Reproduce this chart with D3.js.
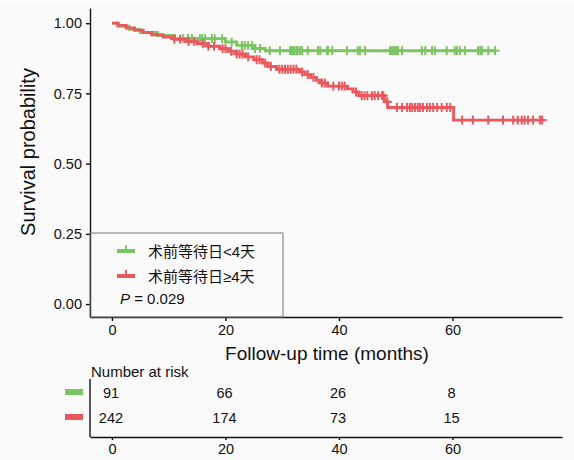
<!DOCTYPE html>
<html>
<head>
<meta charset="utf-8">
<script src="https://cdn.jsdelivr.net/npm/d3@7"></script>
<style>
  body { margin: 0; background: #fff; }
  text { font-family: "Liberation Sans", Arial, "Noto Sans CJK SC", sans-serif; fill: #111; }
</style>
</head>
<body>
<div id="vis"></div>
<script>
// Kaplan-Meier steps: [time, survival after event]
var groupNames = ["术前等待日<4天", "术前等待日≥4天"];
var groupColors = ["#7cc562", "#e9585d"];

var greenSteps = [[0, 1], [1.2, 0.989], [3, 0.978], [5, 0.967], [8, 0.956], [11, 0.945],
    [20, 0.933], [22, 0.921], [25, 0.910], [27, 0.902]];
var greenEnd = 67.5;
var greenCensor = [12.5, 13.4, 14.1, 15.5, 15.9, 16.4, 17.6, 18.1, 19.4, 21.1, 22.9, 23.4, 24, 24.7,
    25.2, 26.1, 27.8, 29.6, 31.4, 31.7, 31.9, 32.2, 32.6, 32.7, 33.1, 33.5, 34.5, 36.3, 36.7, 37.9,
    38.1, 38.8, 41.4, 43.3, 43.7, 44.6, 49, 49.3, 49.6, 49.9, 50.2, 50.4, 51.1, 54.6, 55.2, 56.4,
    56.9, 59, 60.4, 60.8, 61.3, 62.2, 64.5, 64.9, 65.2, 66.3, 67.5];

var redSteps = [[0, 1], [1, 0.992], [2.5, 0.983], [4, 0.975], [5.5, 0.967], [7, 0.959], [9, 0.951],
    [11, 0.943], [13, 0.935], [15, 0.927], [17, 0.918], [19, 0.909], [20.5, 0.9], [22, 0.89],
    [23.5, 0.88], [25, 0.87], [26.5, 0.858], [27.5, 0.846], [29, 0.836], [33, 0.826], [34, 0.817],
    [35, 0.807], [36, 0.797], [36.8, 0.787], [38, 0.776], [41.5, 0.766], [42.5, 0.755],
    [43.5, 0.742], [48, 0.72], [48.6, 0.70], [60.2, 0.655]];
var redEnd = 75.8;
var redCensor = [11, 12, 13.5, 14.5, 16, 17, 18, 19.5, 20, 21, 22, 22.5, 23, 24, 25.5, 26, 27, 28,
    29.5, 30, 30.5, 31, 31.5, 32, 32.5, 33.5, 34.5, 35.5, 37, 37.5, 39, 40, 40.5, 41, 43, 44, 44.5,
    45, 45.8, 46.3, 46.9, 47.6, 47.8, 48.5, 50.2, 51.1, 52, 52.5, 52.9, 53.4, 53.9, 54.3, 54.8,
    55.5, 56, 56.6, 57.3, 58.1, 59, 59.6, 61.7, 63.6, 66.3, 68.9, 70.7, 71.5, 72.2, 72.7, 73.3,
    74.2, 75.4, 75.8];

// risk table
var riskTimes = [0, 20, 40, 60];
var riskGreen = [91, 66, 26, 8];
var riskRed = [242, 174, 73, 15];

var xTicks = [0, 20, 40, 60];
var yTicks = [0, 0.25, 0.5, 0.75, 1];
var pText = "0.029";

var width = 574, height = 460;

var svg = d3.select("#vis").append("svg")
    .attr("width", width)
    .attr("height", height);

svg.append("rect").attr("x", 0).attr("y", 4).attr("width", width).attr("height", height - 4)
    .attr("fill", "#fafafa");

var x = d3.scaleLinear().domain([-3.87, 79.3]).range([90, 562]);
var y = d3.scaleLinear().domain([-0.046, 1.054]).range([317, 8]);

// survival value at time t
function survAt(steps, t) {
    var s = 1;
    steps.forEach(function(d) { if (d[0] <= t) s = d[1]; });
    return s;
}

var groups = [
    {steps: greenSteps, end: greenEnd, censor: greenCensor, color: groupColors[0]},
    {steps: redSteps, end: redEnd, censor: redCensor, color: groupColors[1]}
];

var line = d3.line()
    .x(function(d) { return x(d[0]); })
    .y(function(d) { return y(d[1]); })
    .curve(d3.curveStepAfter);

groups.forEach(function(g) {
    var pts = g.steps.concat([[g.end, g.steps[g.steps.length - 1][1]]]);
    var gg = svg.append("g");
    gg.append("path")
        .datum(pts)
        .attr("d", line)
        .attr("fill", "none")
        .attr("stroke", g.color)
        .attr("stroke-width", 2.9);
    // censor marks (+)
    var c = gg.selectAll("g.cens").data(g.censor).enter().append("g")
        .attr("transform", function(t) { return "translate(" + x(t) + "," + y(survAt(g.steps, t)) + ")"; });
    c.append("line").attr("x1", 0).attr("x2", 0).attr("y1", -4.5).attr("y2", 4.5)
        .attr("stroke", g.color).attr("stroke-width", 2);
    c.append("line").attr("x1", -4.5).attr("x2", 4.5).attr("y1", 0).attr("y2", 0)
        .attr("stroke", g.color).attr("stroke-width", 2);
});

// axes
var yAxis = svg.append("g")
    .attr("transform", "translate(90,0)")
    .call(d3.axisLeft(y).tickValues(yTicks).tickFormat(d3.format(".2f")).tickSize(4).tickSizeOuter(0).tickPadding(4));
var xAxis = svg.append("g")
    .attr("transform", "translate(0,317)")
    .call(d3.axisBottom(x).tickValues(xTicks).tickSize(4).tickSizeOuter(0).tickPadding(4));
[yAxis, xAxis].forEach(function(a) {
    a.selectAll("path, line").attr("stroke", "#111").attr("stroke-width", 1.4);
    a.selectAll("text").style("font-size", "14.5px").attr("fill", "#111");
});

svg.append("text")
    .attr("transform", "translate(35,152) rotate(-90)")
    .attr("text-anchor", "middle")
    .style("font-size", "20px")
    .text("Survival probability");

svg.append("text")
    .attr("x", 327).attr("y", 360)
    .attr("text-anchor", "middle")
    .style("font-size", "19px")
    .text("Follow-up time (months)");

// legend box
svg.append("rect")
    .attr("x", 90).attr("y", 233).attr("width", 193).attr("height", 84)
    .attr("fill", "none").attr("stroke", "#777").attr("stroke-width", 1);

var legend = svg.append("g");
groupNames.forEach(function(name, i) {
    var ly = 251 + i * 25;
    legend.append("rect").attr("x", 117).attr("y", ly - 2).attr("width", 18).attr("height", 4)
        .attr("fill", groupColors[i]);
    legend.append("line").attr("x1", 126).attr("x2", 126).attr("y1", ly - 6).attr("y2", ly)
        .attr("stroke", groupColors[i]).attr("stroke-width", 1.8);
    legend.append("text").attr("x", 148).attr("y", ly + 5.5)
        .style("font-size", "15px")
        .text(name);
});
var pt = legend.append("text").attr("x", 120).attr("y", 304).style("font-size", "15px");
pt.append("tspan").style("font-style", "italic").text("P");
pt.append("tspan").text(" = " + pText);

// risk table
svg.append("text").attr("x", 91).attr("y", 377).style("font-size", "15px").text("Number at risk");

var tableRows = [riskGreen, riskRed];
tableRows.forEach(function(row, i) {
    var ry = 392 + i * 25;
    svg.append("rect").attr("x", 65).attr("y", ry - 3).attr("width", 18).attr("height", 6)
        .attr("fill", groupColors[i]);
    svg.selectAll(null).data(row).enter().append("text")
        .attr("x", function(d, j) { return x(riskTimes[j]) - 1; })
        .attr("y", ry + 5.5)
        .attr("text-anchor", "middle")
        .style("font-size", "14.5px")
        .text(function(d) { return d; });
});

var tAxis = svg.append("g")
    .attr("transform", "translate(0,437)")
    .call(d3.axisBottom(x).tickValues(xTicks).tickSize(3).tickSizeOuter(0).tickPadding(4));
tAxis.selectAll("path, line").attr("stroke", "#111").attr("stroke-width", 1.4);
tAxis.selectAll("text").style("font-size", "14.5px").attr("fill", "#111");
svg.append("line").attr("x1", 90).attr("x2", 90).attr("y1", 379).attr("y2", 437)
    .attr("stroke", "#111").attr("stroke-width", 1.4);
</script>
</body>
</html>
